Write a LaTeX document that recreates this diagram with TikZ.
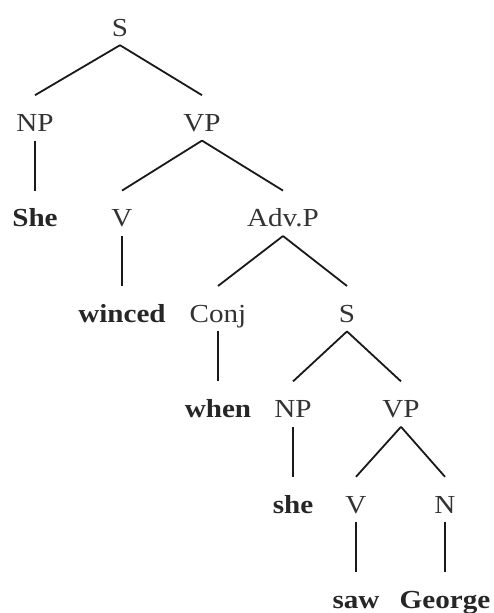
\documentclass[tikz,border=0pt]{standalone}
\usepackage{fontspec}
\setmainfont{Liberation Serif}[FakeStretch=1.12]
\usetikzlibrary{positioning}

\begin{document}
\begin{tikzpicture}
  [
    x=1pt, y=-1pt,
    every node/.style={anchor=base, inner sep=0pt, text height=36pt, text depth=9pt, font=\fontsize{26}{30}\selectfont},
    cat/.style={text=black!80},
    word/.style={text=black!85, font=\fontsize{26}{30}\selectfont\bfseries},
    branch/.style={line width=1.8pt, black!90},
  ]
  % \draw[help lines] grid(493,613);
  \useasboundingbox (0,0) rectangle (493,613);
  \node [cat] (s)      at (120, 36)    {S};
  \node [cat] (np)     at (35, 131.4)  {NP};
  \node [cat] (vp)     at (202, 131.4) {VP};
  \node [word] (she)   at (35, 226.8)  {She};
  \node [cat] (v)      at (122, 226.8) {V};
  \node [cat] (advp)   at (283, 226.8) {Adv.P};
  \node [word] (winced) at (122, 322.2) {winced};
  \node [cat] (conj)   at (218, 322.2) {Conj};
  \node [cat] (s2)     at (347, 322.2) {S};
  \node [word] (when)  at (218, 417.6) {when};
  \node [cat] (np2)    at (293, 417.6) {NP};
  \node [cat] (vp2)    at (401, 417.6) {VP};
  \node [word] (she2)  at (293, 513)   {she};
  \node [cat] (v2)     at (356, 513)   {V};
  \node [cat] (n)      at (445, 513)   {N};
  \node [word] (saw)   at (356, 608.4) {saw};
  \node [word] (george) at (445, 608.4) {George};

  \draw [branch] (s.south) -- (np.north);
  \draw [branch] (s.south) -- (vp.north);
  \draw [branch] (np.south) -- (she.north);
  \draw [branch] (vp.south) -- (v.north);
  \draw [branch] (vp.south) -- (advp.north);
  \draw [branch] (v.south) -- (winced.north);
  \draw [branch] (advp.south) -- (conj.north);
  \draw [branch] (advp.south) -- (s2.north);
  \draw [branch] (conj.south) -- (when.north);
  \draw [branch] (s2.south) -- (np2.north);
  \draw [branch] (s2.south) -- (vp2.north);
  \draw [branch] (np2.south) -- (she2.north);
  \draw [branch] (vp2.south) -- (v2.north);
  \draw [branch] (vp2.south) -- (n.north);
  \draw [branch] (v2.south) -- (saw.north);
  \draw [branch] (n.south) -- (george.north);
\end{tikzpicture}
\end{document}
